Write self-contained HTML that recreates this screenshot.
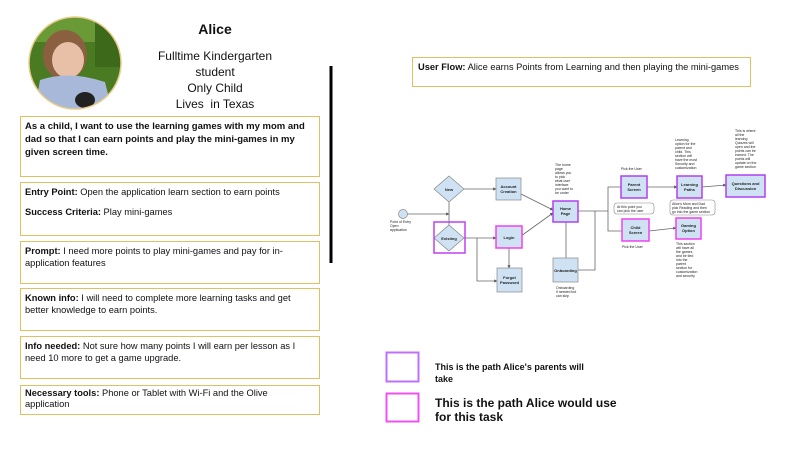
<!DOCTYPE html>
<html><head><meta charset="utf-8"><style>
body{margin:0;width:800px;height:450px;background:#fff;position:relative;overflow:hidden;font-family:"Liberation Sans",Arial,sans-serif;color:#111}
.b{position:absolute;border:1px solid #e0c060;box-sizing:border-box;font-size:9.3px;line-height:12px;padding:3px 4px}
.b b{font-weight:bold}
.t{position:absolute;text-align:center}
</style></head><body>
<svg style="position:absolute;left:0;top:0" width="800" height="450">
<defs><clipPath id="c"><circle cx="75" cy="63" r="46"/></clipPath>
<marker id="a" markerWidth="4" markerHeight="4" refX="3.5" refY="2" orient="auto"><path d="M0,0L4,2L0,4z" fill="#555"/></marker></defs>
<g clip-path="url(#c)">
<rect x="28" y="17" width="94" height="92" fill="#4a7a22"/>
<rect x="28" y="17" width="94" height="25" fill="#6a9a35"/>
<rect x="95" y="17" width="27" height="50" fill="#3d6a1a"/>
<ellipse cx="65" cy="55" rx="22" ry="25" fill="#8a6040"/>
<ellipse cx="68" cy="60" rx="16" ry="18" fill="#e8c0a8"/>
<path d="M35,110 L40,80 Q70,70 105,82 L112,110 Z" fill="#a8b8d8"/>
<ellipse cx="85" cy="100" rx="10" ry="8" fill="#222"/>
</g>
<circle cx="75" cy="63" r="46" fill="none" stroke="#e8cc88" stroke-width="1.5"/>
<line x1="331" y1="66" x2="331" y2="263" stroke="#000" stroke-width="3"/>
<g stroke="#666" stroke-width="0.8" fill="none">
<line x1="407" y1="214" x2="449" y2="214" marker-end="url(#a)"/>
<line x1="449" y1="202" x2="449" y2="226"/>
<line x1="464" y1="189" x2="496" y2="189" marker-end="url(#a)"/>
<line x1="464" y1="238" x2="496" y2="238" marker-end="url(#a)"/>
<polyline points="477,238 477,281 497,281" marker-end="url(#a)"/>
<line x1="509" y1="248" x2="509" y2="268" marker-end="url(#a)"/>
<line x1="521" y1="194" x2="553" y2="210" marker-end="url(#a)"/>
<line x1="521" y1="236" x2="553" y2="213" marker-end="url(#a)"/>
<line x1="578" y1="211" x2="608" y2="211"/>
<polyline points="621,187 608,187 608,231 622,231"/>
<line x1="566" y1="222" x2="566" y2="258"/>
<polyline points="578,270 595,270 595,211"/>
<line x1="647" y1="187" x2="677" y2="187" marker-end="url(#a)"/>
<line x1="649" y1="231" x2="676" y2="228" marker-end="url(#a)"/>
<line x1="702" y1="187" x2="726" y2="185" marker-end="url(#a)"/>
</g>
<circle cx="403" cy="214" r="4.5" fill="#cfe2f3" stroke="#888" stroke-width="0.7"/>
<g fill="#cfe2f3" stroke="#888" stroke-width="0.7">
<polygon points="449,176 464,189 449,202 434,189"/>
<polygon points="449,225 464,238 449,251 434,238"/>
<rect x="496" y="178" width="25" height="22"/>
<rect x="497" y="268" width="25" height="24"/>
<rect x="553" y="258" width="25" height="24"/>
</g>
<rect x="434" y="222" width="31" height="31" fill="none" stroke="#c040f0" stroke-width="1.5"/>
<g fill="#cfe2f3" stroke="#b040f0" stroke-width="1.5">
<rect x="553" y="201" width="25" height="21"/>
<rect x="621" y="176" width="26" height="22"/>
<rect x="677" y="176" width="25" height="22"/>
<rect x="726" y="175" width="39" height="22"/>
</g>
<g fill="#cfe2f3" stroke="#f040f0" stroke-width="1.5">
<rect x="496" y="226" width="26" height="22"/>
<rect x="622" y="219" width="27" height="22"/>
<rect x="676" y="218" width="25" height="21"/>
</g>
<g fill="#fff" stroke="#888" stroke-width="0.6">
<rect x="614" y="203" width="40" height="11" rx="3"/>
<rect x="670" y="200" width="45" height="15" rx="3"/>
</g>
<rect x="386.5" y="352.5" width="32" height="29" fill="none" stroke="#c070f8" stroke-width="2"/>
<rect x="386.5" y="393.5" width="32" height="28" fill="none" stroke="#f050f0" stroke-width="2"/>
<g font-family="Liberation Sans,Arial,sans-serif" font-size="4" font-weight="bold" fill="#222" text-anchor="middle">
<text x="449" y="191">New</text>
<text x="449" y="240">Existing</text>
<text x="508.5" y="188">Account</text><text x="508.5" y="193">Creation</text>
<text x="509" y="239">Login</text>
<text x="509.5" y="279">Forgot</text><text x="509.5" y="284">Password</text>
<text x="565.5" y="210">Home</text><text x="565.5" y="215">Page</text>
<text x="565.5" y="272">Onboarding</text>
<text x="634" y="186">Parent</text><text x="634" y="191">Screen</text>
<text x="635.5" y="229">Child</text><text x="635.5" y="234">Screen</text>
<text x="689.5" y="186">Learning</text><text x="689.5" y="191">Paths</text>
<text x="688.5" y="227">Gaming</text><text x="688.5" y="232">Option</text>
<text x="745.5" y="185">Questions and</text><text x="745.5" y="190">Discussion</text>
</g>
<g font-family="Liberation Sans,Arial,sans-serif" font-size="3.5" fill="#222">
<text x="390" y="223">Point of Entry</text><text x="390" y="227">Open</text><text x="390" y="231">application</text>
<text x="555" y="166">The home</text><text x="555" y="170">page</text><text x="555" y="174">allows you</text><text x="555" y="178">to pick</text><text x="555" y="182">what user</text><text x="555" y="186">interface</text><text x="555" y="190">you want to</text><text x="555" y="194">be under</text>
<text x="621" y="170">Pick the User</text>
<text x="622" y="248">Pick the User</text>
<text x="617" y="208">At this point you</text><text x="617" y="212">can pick the user</text>
<text x="672" y="205">Alice's Mom and Dad</text><text x="672" y="209">pick Reading and then</text><text x="672" y="213">go into the game section</text>
<text x="556" y="289">Onboarding</text><text x="556" y="293">if needed but</text><text x="556" y="297">can skip</text>
<text x="675" y="141">Learning</text><text x="675" y="145">option for the</text><text x="675" y="149">parent and</text><text x="675" y="153">child. This</text><text x="675" y="157">section will</text><text x="675" y="161">have the most</text><text x="675" y="165">Security and</text><text x="675" y="169">customization</text>
<text x="735" y="132">This is where</text><text x="735" y="136">all the</text><text x="735" y="140">learning</text><text x="735" y="144">Quizzes will</text><text x="735" y="148">open and the</text><text x="735" y="152">points can be</text><text x="735" y="156">earned. The</text><text x="735" y="160">points will</text><text x="735" y="164">update on the</text><text x="735" y="168">game section</text>
<text x="676" y="245">This section</text><text x="676" y="249">will have all</text><text x="676" y="253">the games</text><text x="676" y="257">and be tied</text><text x="676" y="261">into the</text><text x="676" y="265">parent</text><text x="676" y="269">section for</text><text x="676" y="273">customization</text><text x="676" y="277">and security</text>
</g>
</svg>
<div class="t" style="left:155px;top:21px;width:120px;font-size:14px;font-weight:bold">Alice</div>
<div class="t" style="left:140px;top:48px;width:150px;font-size:12px;line-height:16px">Fulltime Kindergarten<br>student<br>Only Child<br>Lives&nbsp; in Texas</div>
<div class="b" style="left:20px;top:116px;width:300px;height:61px;font-weight:bold;font-size:9.5px;line-height:13px">As a child, I want to use the learning games with my mom and dad so that I can earn points and play the mini-games in my given screen time.</div>
<div class="b" style="left:20px;top:182px;width:300px;height:54px"><b>Entry Point:</b> Open the application learn section to earn points<div style="margin-top:8px"><b>Success Criteria:</b> Play mini-games</div></div>
<div class="b" style="left:20px;top:241px;width:300px;height:43px"><b>Prompt:</b> I need more points to play mini-games and pay for in-application features</div>
<div class="b" style="left:20px;top:288px;width:300px;height:43px;padding-right:22px"><b>Known info:</b> I will need to complete more learning tasks and get better knowledge to earn points.</div>
<div class="b" style="left:20px;top:336px;width:300px;height:43px"><b>Info needed:</b> Not sure how many points I will earn per lesson as I need 10 more to get a game upgrade.</div>
<div class="b" style="left:20px;top:385px;width:300px;height:30px;line-height:11px;padding-top:2px;padding-right:40px"><b>Necessary tools:</b> Phone or Tablet with Wi-Fi and the Olive application</div>
<div class="b" style="left:412px;top:57px;width:339px;height:30px;padding:3px 5px"><b>User Flow:</b> Alice earns Points from Learning and then playing the mini-games</div>
<div style="position:absolute;left:435px;top:361px;font-size:9px;font-weight:bold;line-height:12px;width:160px">This is the path Alice's parents will take</div>
<div style="position:absolute;left:435px;top:396px;font-size:12px;font-weight:bold;line-height:14px;width:190px">This is the path Alice would use for this task</div>
</body></html>
